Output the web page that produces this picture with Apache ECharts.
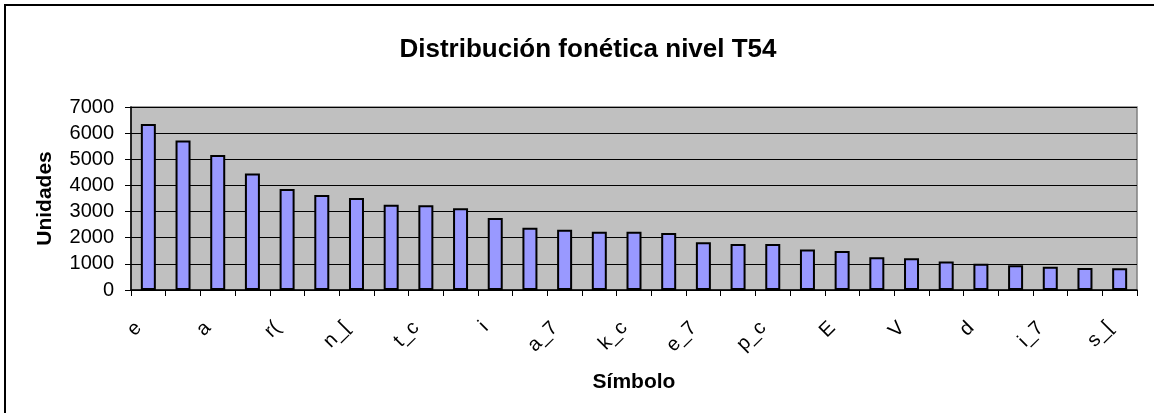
<!DOCTYPE html>
<html>
<head>
<meta charset="utf-8">
<script src="https://cdn.jsdelivr.net/npm/echarts@6/dist/echarts.min.js"></script>
<style>
  html, body { margin: 0; padding: 0; background: #fff; }
  #chart { width: 1154px; height: 413px; }
</style>
</head>
<body>
<div id="chart"></div>
<script>
// symbols (only every other one is printed on the axis)
const simbolos = ['e', 'o', 'a', 's', 'r(', 'l', 'n_[', 'D', 't_c', 'm', 'i', 'k', 'a_7', 'o_7', 'k_c',
  'u', 'e_7', 'b', 'p_c', 'g', 'E', 'j', 'V', 'n', 'd', 'T', 'i_7', 'x', 's_[']
const unidades = [6350, 5720, 5160, 4460, 3860, 3630, 3520, 3260, 3240, 3130, 2750, 2380, 2300, 2230, 2230,
  2180, 1830, 1760, 1760, 1550, 1490, 1250, 1210, 1090, 1000, 950, 890, 840, 830]
const yTicks = [0, 1000, 2000, 3000, 4000, 5000, 6000, 7000]

const fontFamily = '"Liberation Sans", Arial, sans-serif'
const chart = echarts.init(document.getElementById('chart'))

const option = {
  backgroundColor: '#fff',
  animation: false,
  title: {
    text: 'Distribución fonética nivel T54',
    left: 583,
    textAlign: 'center',
    top: 32,
    textStyle: { fontFamily, fontWeight: 'bold', fontSize: 26, color: '#000' }
  },
  graphic: [
    {
      type: 'rect',
      shape: { x: 5, y: 5, width: 1300, height: 600 },
      style: { fill: null, stroke: '#000', lineWidth: 2 },
      silent: true
    }
  ],
  grid: {
    left: 131,
    right: 17,
    top: 107,
    bottom: 123,
    show: true,
    backgroundColor: '#C0C0C0',
    borderColor: '#808080',
    borderWidth: 1.5
  },
  xAxis: {
    type: 'category',
    data: simbolos,
    name: 'Símbolo',
    nameLocation: 'middle',
    nameGap: 82,
    nameTextStyle: { fontFamily, fontWeight: 'bold', fontSize: 21, color: '#000' },
    axisLine: { lineStyle: { color: '#000', width: 1.5 } },
    axisTick: { show: true, interval: 0, length: 6, lineStyle: { color: '#000' } },
    axisLabel: {
      interval: 1,
      rotate: 45,
      margin: 25,
      padding: [0, 14, 0, 0],
      fontFamily,
      fontSize: 20,
      color: '#000'
    },
    splitLine: { show: false }
  },
  yAxis: {
    type: 'value',
    min: yTicks[0],
    max: yTicks[yTicks.length - 1],
    interval: 1000,
    name: 'Unidades',
    nameLocation: 'middle',
    nameGap: 75,
    nameTextStyle: { fontFamily, fontWeight: 'bold', fontSize: 21, color: '#000' },
    axisLine: { show: true, lineStyle: { color: '#000', width: 1.5 } },
    axisTick: { show: true, length: 6, lineStyle: { color: '#000' } },
    axisLabel: {
      margin: 17,
      fontFamily,
      fontSize: 20,
      color: '#000',
      formatter: v => String(v)
    },
    splitLine: { lineStyle: { color: '#000', width: 1 } }
  },
  series: [
    {
      type: 'bar',
      data: unidades,
      barWidth: 15,
      itemStyle: {
        color: '#9999FF',
        borderColor: '#000',
        borderWidth: 2
      }
    }
  ]
}

chart.setOption(option)
</script>
</body>
</html>
